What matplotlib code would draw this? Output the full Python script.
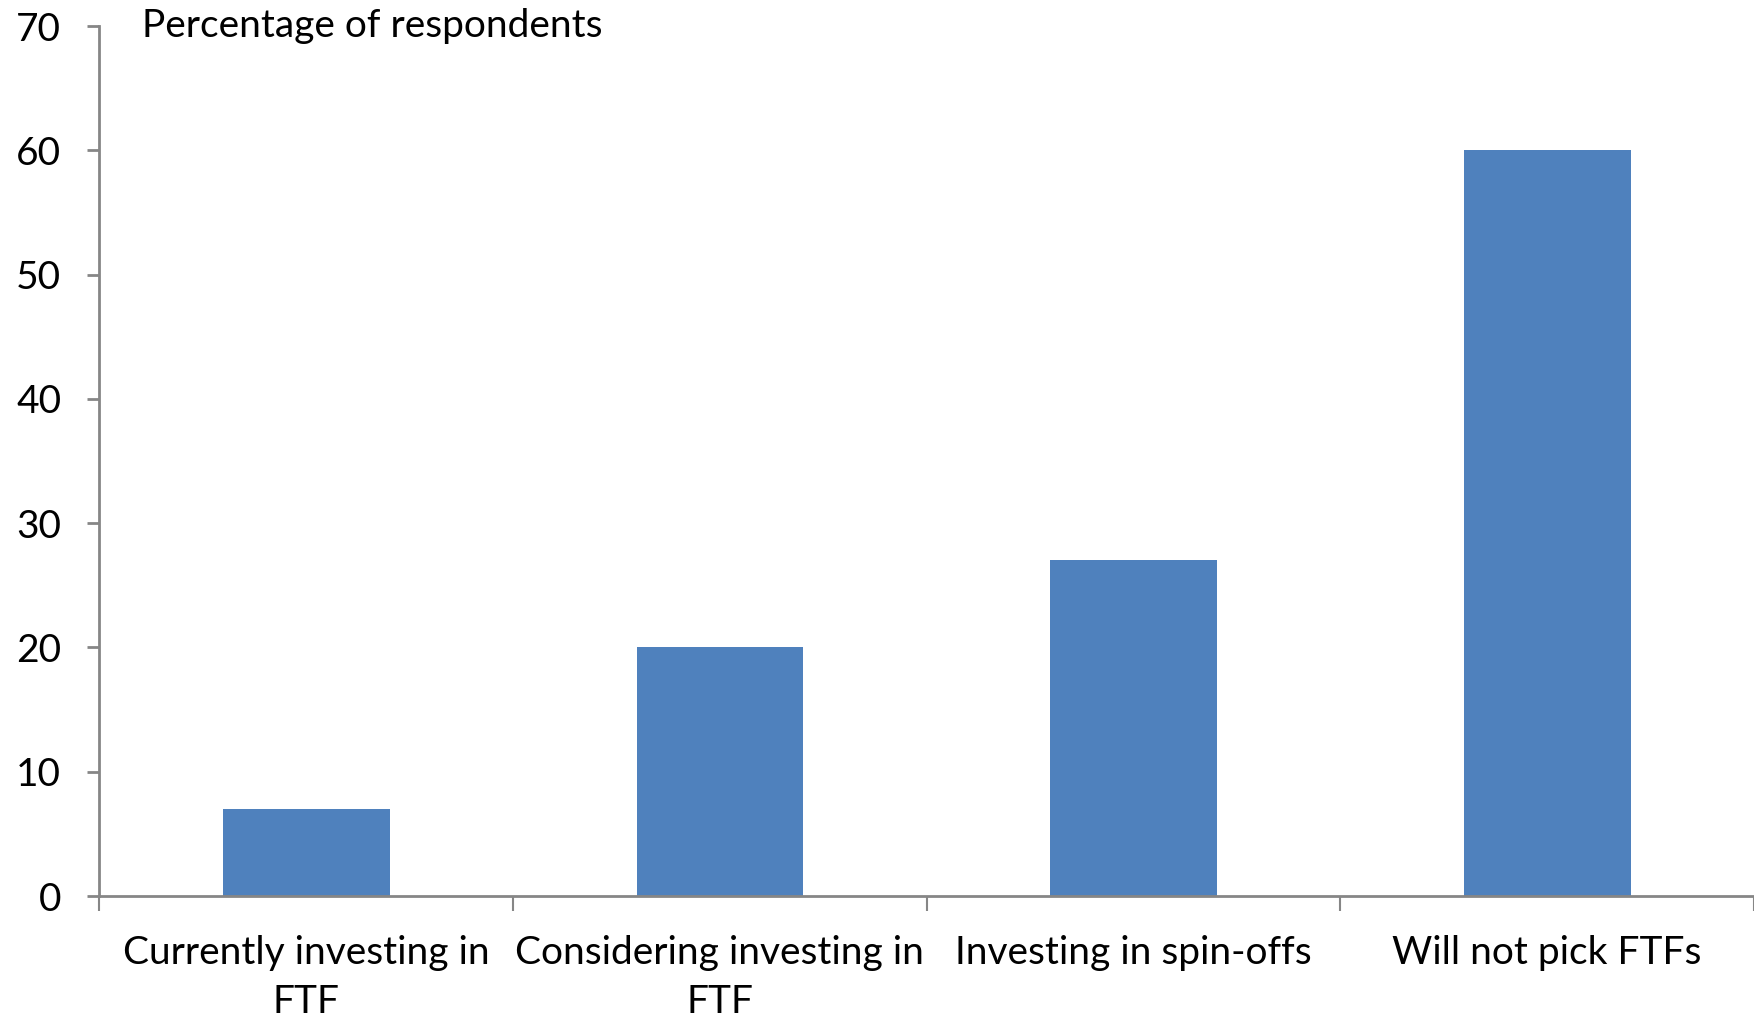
import numpy as np
import matplotlib.pyplot as plt

# survey data
categories = ['Currently investing in\nFTF', 'Considering investing in\nFTF',
              'Investing in spin-offs', 'Will not pick FTFs']
values = [7, 20, 27, 60]
yticks = [0, 10, 20, 30, 40, 50, 60, 70]

plt.rcParams['font.family'] = ['Lato', 'DejaVu Sans']

fig = plt.figure(figsize=(17.54, 10.21), dpi=100)
ax = fig.add_axes([0.0567, 0.1224, 0.9433, 0.8521])

x = np.arange(len(categories))
ax.bar(x, values, width=0.403, color='#4F81BD', zorder=2)

ax.set_xlim(-0.5, len(categories) - 0.5)
ax.set_ylim(0, 70)
ax.set_yticks(yticks)
ax.set_yticklabels([str(t) for t in yticks], fontsize=28)

ax.set_xticks(x)
ax.set_xticklabels(categories, fontsize=28, linespacing=1.45, va='top')
ax.set_xticks(np.arange(len(categories) + 1) - 0.5, minor=True)

gray = '#868686'
for s in ['top', 'right']:
    ax.spines[s].set_visible(False)
for s in ['left', 'bottom']:
    ax.spines[s].set_color(gray)
    ax.spines[s].set_linewidth(2)

ax.tick_params(axis='y', length=9, width=2, color=gray, pad=18.5)
ax.tick_params(axis='x', which='major', length=0, pad=28)
ax.tick_params(axis='x', which='minor', length=11, width=1.5, color=gray)

ax.text(0.0255, 0.9998, 'Percentage of respondents', transform=ax.transAxes,
        fontsize=28, va='center', ha='left')

fig.savefig('out.png', dpi=100)
